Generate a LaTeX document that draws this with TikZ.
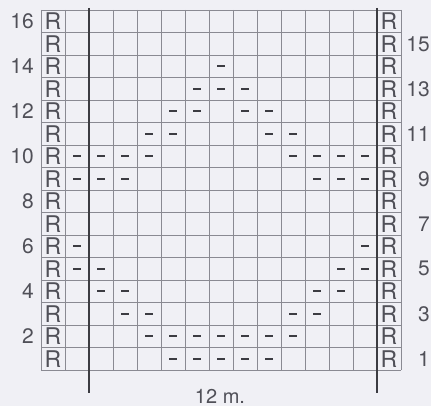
\documentclass[tikz,border=0pt]{standalone}
\usepackage{fontspec}
\setmainfont{TeX Gyre Heros}
\definecolor{bgc}{RGB}{240,240,245}
\definecolor{gridc}{RGB}{138,138,146}
\definecolor{inkc}{RGB}{80,80,88}
\definecolor{thickc}{RGB}{60,60,66}
\begin{document}
\begin{tikzpicture}[x=1pt,y=-1pt,
  gridline/.style={draw=gridc,line width=0.9pt},
  thickline/.style={draw=thickc,line width=2.4pt},
  rlab/.style={inner sep=0pt,text=inkc,font=\fontsize{23}{23}\selectfont},
  rownum/.style={inner sep=0pt,anchor=east,text=inkc,font=\fontsize{21}{21}\selectfont},
  purl/.style={draw=thickc,line width=2.3pt},
  caption/.style={inner sep=0pt,anchor=base,text=inkc,font=\fontsize{20}{20}\selectfont}]
\fill[bgc] (0,0) rectangle (431,406);
\useasboundingbox (0,0) rectangle (431,406);
% grid
\foreach \k in {0,...,15}{
  \draw[gridline] (41+24*\k,10) -- (41+24*\k,370);
}
\foreach \j in {0,...,16}{
  \draw[gridline] (41,10+22.5*\j) -- (401,10+22.5*\j);
}
% thick repeat lines
\draw[thickline] (89,8) -- (89,393);
\draw[thickline] (377,8) -- (377,393);
% R labels
\foreach \r in {1,...,16}{
  \node[rlab] (rl\r) at (53,370-22.5*\r+11.25) {R};
  \node[rlab] (rr\r) at (389,370-22.5*\r+11.25) {R};
}
% row numbers
\foreach \r in {2,4,...,16}{
  \node[rownum] (nl\r) at (34,370-22.5*\r+11.25) {\r};
}
\foreach \r in {1,3,...,15}{
  \node[rownum] (nr\r) at (430,370-22.5*\r+11.25) {\r};
}
% purl dashes: row/col list
\foreach \r/\c in {14/6,
  13/5,13/6,13/7,
  12/4,12/5,12/7,12/8,
  11/3,11/4,11/8,11/9,
  10/0,10/1,10/2,10/3,10/9,10/10,10/11,10/12,
  9/0,9/1,9/2,9/10,9/11,9/12,
  6/0,6/12,
  5/0,5/1,5/11,5/12,
  4/1,4/2,4/10,4/11,
  3/2,3/3,3/9,3/10,
  2/3,2/4,2/5,2/6,2/7,2/8,2/9,
  1/4,1/5,1/6,1/7,1/8}{
  \draw[purl] (77+24*\c-3.6,370-22.5*\r+11.25) -- (77+24*\c+3.6,370-22.5*\r+11.25);
}
\node[caption] (cap) at (220,403) {12 m.};
\end{tikzpicture}
\end{document}
